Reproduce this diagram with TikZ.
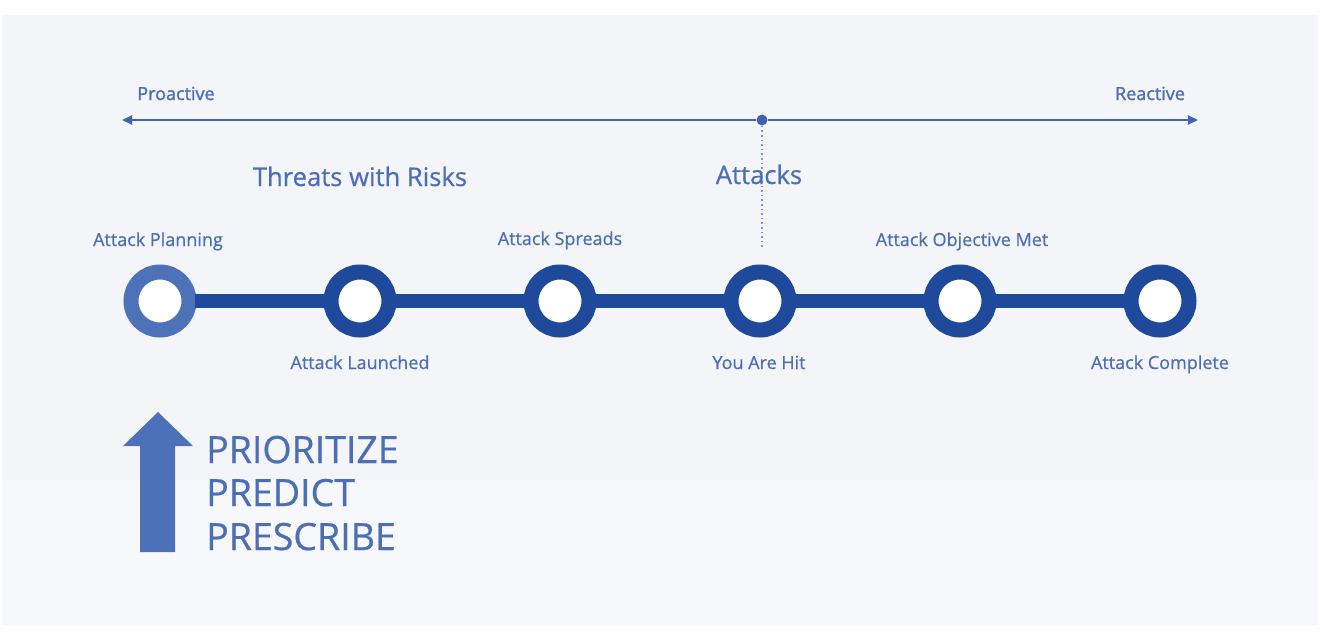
\documentclass[tikz,border=0pt]{standalone}
\usepackage{fontspec}
\setmainfont{Open Sans}[FakeBold=0.6]
\newfontfamily\semifont{Open Sans}[FakeBold=1.4]
\usetikzlibrary{arrows.meta}
\definecolor{txtblue}{HTML}{4C6EB4}
\definecolor{ringdark}{HTML}{1F4A9C}
\definecolor{ringlight}{HTML}{4D72B8}
\definecolor{axisblue}{HTML}{3F63B0}
\definecolor{dotblue}{HTML}{8099CC}
\definecolor{bigarrow}{HTML}{4C71B8}
\definecolor{panelA}{HTML}{F3F5F9}
\definecolor{panelB}{HTML}{F7F8FB}
\tikzset{
  ring/.style={circle, draw=ringdark, fill=white, line width=15pt, minimum size=58pt, inner sep=0pt},
  ringfirst/.style={ring, draw=ringlight},
  stagelabel/.style={anchor=base, text=txtblue, font=\fontsize{18}{20}\selectfont, inner sep=0pt},
  grouplabel/.style={anchor=base, text=txtblue, font=\fontsize{25.6}{28}\selectfont, inner sep=0pt},
  endlabel/.style={anchor=base, text=txtblue, font=\semifont\fontsize{18}{20}\selectfont, inner sep=0pt},
  bigword/.style={anchor=base west, text=txtblue, font=\fontsize{37.5}{40}\selectfont, inner sep=0pt},
  link/.style={draw=ringdark, line width=14pt, shorten <=-2pt, shorten >=-2pt},
  axis/.style={draw=axisblue, line width=2pt, -{Triangle[length=10pt,width=9pt]}},
}
\begin{document}
\begin{tikzpicture}[x=1pt,y=-1pt]
\useasboundingbox (0,0) rectangle (1320,640);
\fill[white] (0,0) rectangle (1320,640);
\fill[panelA] (2,15) rectangle (1318,480);
\fill[panelB] (2,480) rectangle (1318,625);

% top axis
\coordinate (axL) at (122,120);
\coordinate (axR) at (1198,120);
\node[circle, fill=axisblue, minimum size=11pt, inner sep=0pt] (dot) at (762,120) {};
\draw[axis] (dot) -- (axL);
\draw[axis] (dot) -- (axR);
\coordinate (dotend) at (762,248);
\draw[dotblue, line width=1.6pt, dash pattern=on 1.6pt off 3pt] (dot) -- (dotend);

\node[endlabel] (pro) at (176,100) {Proactive};
\node[endlabel] (rea) at (1150,100) {Reactive};

\node[grouplabel] (thr) at (360,186) {Threats with Risks};
\node[grouplabel] (att) at (759,184) {Attacks};

% rings
\node[ringfirst] (n1) at (160,301) {};
\node[ring] (n2) at (360,301) {};
\node[ring] (n3) at (560,301) {};
\node[ring] (n4) at (760,301) {};
\node[ring] (n5) at (960,301) {};
\node[ring] (n6) at (1160,301) {};
\draw[link] (n1) -- (n2);
\draw[link] (n2) -- (n3);
\draw[link] (n3) -- (n4);
\draw[link] (n4) -- (n5);
\draw[link] (n5) -- (n6);

\node[stagelabel] (l1) at (158,246) {Attack Planning};
\node[stagelabel] (l2) at (360,369) {Attack Launched};
\node[stagelabel] (l3) at (560,245) {Attack Spreads};
\node[stagelabel] (l4) at (759,369) {You Are Hit};
\node[stagelabel] (l5) at (962,246) {Attack Objective Met};
\node[stagelabel] (l6) at (1160,369) {Attack Complete};

% big arrow
\fill[bigarrow] (140,552) -- (140,446) -- (123,446) -- (158,412) -- (193,446) -- (175,446) -- (175,552) -- cycle;
\node[bigword] (w1) at (206,463) {PRIORITIZE};
\node[bigword] (w2) at (206,506) {PREDICT};
\node[bigword] (w3) at (206,550) {PRESCRIBE};
\end{tikzpicture}
\end{document}
